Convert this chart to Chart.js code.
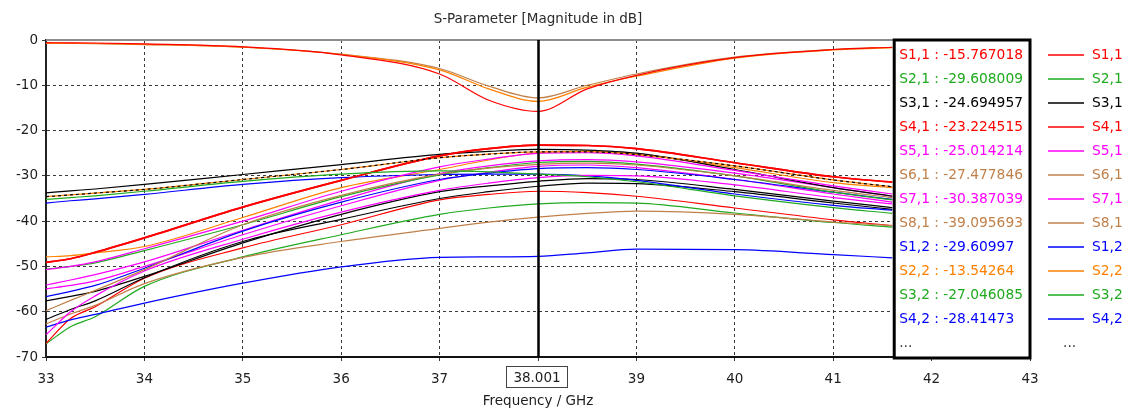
<!DOCTYPE html>
<html>
<head>
<meta charset="utf-8">
<script src="https://cdn.jsdelivr.net/npm/chart.js@4.4.0/dist/chart.umd.min.js"></script>
<style>
  html, body { margin: 0; padding: 0; background: #fff; }
</style>
</head>
<body>
<canvas id="sparam" width="1129" height="410"></canvas>
<script>
// frequency points (GHz)
var freq = [33, 33.25, 33.5, 34, 35, 36, 37, 37.5, 38, 38.5, 39, 40, 41, 41.6];

// reflections
var s11 = [-0.6, -0.62, -0.66, -0.85, -1.5, -3.3, -7.5, -13.3, -15.767018, -10.8, -7.8, -3.9, -2.1, -1.6];
var s22 = [-0.7, -0.72, -0.77, -0.95, -1.6, -3.2, -6.6, -10.8, -13.54264, -10.4, -8.0, -4.0, -2.2, -1.7];
var s66 = [-0.75, -0.77, -0.8, -1.0, -1.6, -3.1, -6.3, -10.2, -12.8, -10.0, -7.5, -3.8, -2.1, -1.6];

// upper coupling group
var s53 = [-33.75, -33.3, -32.9, -31.9, -29.7, -27.5, -25.25, -24.6, -24.15, -24.3, -25.0, -28.6, -32.6, -34.5];
var s31 = [-34.6, -34.2, -33.8, -33.0, -30.8, -28.6, -26.0, -25.2, -24.694957, -24.7, -25.3, -27.8, -30.9, -32.4];
var s21 = [-35.2, -34.8, -34.4, -33.4, -31.2, -29.6, -28.9, -29.1, -29.608009, -30.2, -31.3, -34.4, -37.0, -38.3];
var s12 = [-36.0, -35.5, -35.1, -34.1, -31.9, -30.4, -29.7, -29.6, -29.60997, -30.0, -31.0, -34.0, -36.5, -37.6];

// lower coupling group
var s41 = [-49.1, -48.3, -46.9, -43.7, -36.9, -31.0, -25.6, -24.0, -23.224515, -23.3, -24.0, -27.1, -30.2, -31.4];
var s62 = [-47.9, -47.6, -47.0, -45.6, -39.2, -32.6, -28.6, -26.5, -24.9, -24.6, -25.2, -28.2, -31.5, -32.6];
var s51 = [-50.7, -50.0, -49.0, -46.1, -40.0, -33.4, -28.0, -26.3, -25.014214, -24.9, -25.6, -28.8, -32.2, -34.0];
var s32 = [-50.6, -50.0, -49.2, -46.5, -40.8, -34.6, -29.8, -28.2, -27.046085, -26.8, -27.4, -30.0, -33.6, -35.3];
var s72 = [-54.1, -53.0, -51.8, -49.0, -42.0, -35.3, -29.5, -27.8, -26.7, -26.4, -26.9, -29.4, -32.6, -34.5];
var s82 = [-54.95, -54.2, -53.2, -50.0, -43.0, -36.6, -31.0, -29.2, -27.9, -27.6, -28.2, -30.8, -34.0, -35.8];
var s42 = [-56.65, -55.5, -54.2, -50.4, -42.2, -35.8, -30.8, -29.4, -28.41473, -28.2, -28.6, -30.8, -33.6, -35.2];
var s52 = [-57.6, -56.6, -55.5, -52.2, -44.8, -38.5, -33.5, -32.2, -31.2, -30.6, -30.8, -33.0, -35.6, -37.0];
var s61 = [-59.75, -57.5, -55.3, -50.7, -40.8, -34.3, -29.6, -28.3, -27.477846, -27.2, -27.6, -30.0, -33.2, -34.8];
var s63 = [-61.7, -59.5, -57.6, -52.5, -44.5, -39.6, -35.0, -33.5, -32.3, -31.6, -31.7, -33.5, -36.0, -37.4];
var s81 = [-62.7, -60.5, -58.6, -53.8, -48.0, -44.5, -41.6, -40.2, -39.095693, -38.3, -37.8, -38.5, -40.2, -41.0];
var s83 = [-63.4, -61.8, -60.6, -58.1, -53.7, -50.1, -48.0, -47.9, -47.8, -47.0, -46.2, -46.3, -47.4, -48.1];
var s71 = [-65.1, -60.0, -56.5, -51.0, -44.0, -38.0, -33.2, -31.6, -30.387039, -29.9, -30.0, -32.0, -34.8, -36.2];
var s73 = [-67.0, -61.5, -58.9, -52.6, -45.9, -40.8, -35.3, -34.1, -33.4, -33.7, -34.5, -37.1, -39.7, -41.0];
var s84 = [-67.1, -63.3, -61.1, -54.4, -47.9, -43.0, -38.5, -37.1, -36.2, -35.9, -36.0, -38.2, -40.3, -41.3];

// names, colours and values of each curve (first 12 are listed in the legend)
var names  = ['S1,1', 'S2,1', 'S3,1', 'S4,1', 'S5,1', 'S6,1', 'S7,1', 'S8,1', 'S1,2', 'S2,2', 'S3,2', 'S4,2',
              'S1,3', 'S5,3', 'S6,6', 'S6,2', 'S7,2', 'S8,2', 'S5,2', 'S6,3', 'S8,3', 'S7,3', 'S8,4', 'S1,4'];
var colors = ['#ff0000', '#1faa1f', '#000000', '#ff0000', '#ff00ff', '#c0804a', '#ff00ff', '#c0804a', '#0000ff', '#ff8000', '#1faa1f', '#0000ff',
              '#ff8000', '#000000', '#c0804a', '#ff8000', '#ff00ff', '#ff00ff', '#000000', '#000000', '#0000ff', '#ff0000', '#1faa1f', '#ff0000'];
var values = [s11, s21, s31, s41, s51, s61, s71, s81, s12, s22, s32, s42,
              s31, s53, s66, s62, s72, s82, s52, s63, s83, s73, s84, s41];

var markerFreq = 38.001;
var legendCount = 12;

var datasets = [];
for (var i = 0; i < names.length; i++) {
   var pts = [];
   for (var j = 0; j < freq.length; j++) {
      pts.push({ x: freq[j], y: values[i][j] });
   }
   datasets.push({
      label: names[i],
      data: pts,
      borderColor: colors[i],
      borderWidth: names[i] == 'S4,1' || names[i] == 'S1,4' ? 1.7 : 1.2,
      borderDash: names[i] == 'S3,1' ? [3, 3] : [],
      pointRadius: 0,
      fill: false,
      cubicInterpolationMode: 'monotone'
   });
}

Chart.defaults.font.family = 'DejaVu Sans';
Chart.defaults.font.size = 13.5;
Chart.defaults.color = '#1e1e1e';

// marker box, legend, titles
var overlay = {
   id: 'overlay',
   afterDatasetsDraw: function(chart) {
      var ctx = chart.ctx;
      var area = chart.chartArea;
      var xs = chart.scales.x;
      var mIdx = freq.indexOf(38);

      ctx.save();

      // top frame line
      ctx.strokeStyle = '#8c8c8c';
      ctx.lineWidth = 2;
      ctx.beginPath();
      ctx.moveTo(area.left, area.top);
      ctx.lineTo(area.right, area.top);
      ctx.stroke();

      // marker line
      var mx = Math.round(xs.getPixelForValue(markerFreq)) + 0.5;
      ctx.strokeStyle = '#000';
      ctx.lineWidth = 2.5;
      ctx.beginPath();
      ctx.moveTo(mx, area.top);
      ctx.lineTo(mx, area.bottom);
      ctx.stroke();

      // marker value box
      var bx = xs.getPixelForValue(41.61);
      ctx.fillStyle = '#fff';
      ctx.fillRect(bx, area.top - 1, area.right - bx, area.bottom - area.top + 2);
      ctx.lineWidth = 3;
      ctx.strokeStyle = '#000';
      ctx.strokeRect(bx + 1, area.top, area.right - bx - 1, area.bottom - area.top + 1);

      ctx.font = '13.8px "DejaVu Sans"';
      ctx.textBaseline = 'middle';
      ctx.textAlign = 'left';
      for (var i = 0; i < legendCount; i++) {
         var ty = area.top + 15 + i * 24;
         ctx.fillStyle = colors[i];
         ctx.fillText(names[i] + ' : ' + String(values[i][mIdx]), bx + 6, ty);

         // legend on the right
         ctx.beginPath();
         ctx.strokeStyle = colors[i];
         ctx.lineWidth = 1.3;
         ctx.moveTo(area.right + 18, Math.round(ty));
         ctx.lineTo(area.right + 54, Math.round(ty));
         ctx.stroke();
         ctx.fillText(names[i], area.right + 62, ty);
      }
      var dotY = area.top + 15 + legendCount * 24;
      ctx.fillStyle = '#333';
      ctx.fillText('...', bx + 6, dotY);
      ctx.fillText('...', area.right + 33, dotY);

      // title
      ctx.font = '13.5px "DejaVu Sans"';
      ctx.textAlign = 'center';
      ctx.fillStyle = '#2a2a2a';
      ctx.fillText('S-Parameter [Magnitude in dB]', (area.left + area.right) / 2, 19);

      // marker frequency label on the axis
      ctx.fillStyle = '#1e1e1e';
      ctx.fillText(String(markerFreq), 537, 378);
      ctx.strokeStyle = '#444';
      ctx.lineWidth = 1;
      ctx.strokeRect(506.5, 366.5, 61, 21);

      ctx.restore();
   }
};

var ctx = document.getElementById('sparam').getContext('2d');
var chart = new Chart(ctx, {
   type: 'line',
   data: { datasets: datasets },
   plugins: [overlay],
   options: {
      responsive: false,
      animation: false,
      layout: { padding: { top: 40, right: 99, left: 0, bottom: 0 } },
      plugins: {
         legend: { display: false },
         title: { display: false },
         tooltip: { enabled: false }
      },
      scales: {
         x: {
            type: 'linear',
            min: 33,
            max: 43,
            afterFit: function(s) { s.height = 53; },
            ticks: {
               stepSize: 1,
               padding: 10,
               maxRotation: 0,
               callback: function(v) { return v == 38 ? '' : v; }
            },
            grid: {
               color: function(c) { return (c.tick && (c.tick.value == 33 || c.tick.value == 43)) ? 'rgba(0,0,0,0)' : '#3a3a3a'; },
               tickColor: '#3a3a3a',
               tickLength: 4,
               lineWidth: 1
            },
            border: { display: true, color: '#111', width: 2, dash: [3, 3] },
            title: {
               display: true,
               text: 'Frequency / GHz',
               padding: { top: 0, bottom: 0 }
            }
         },
         y: {
            min: -70,
            max: 0,
            afterFit: function(s) { s.width = 46; },
            ticks: { stepSize: 10, padding: 4 },
            grid: {
               color: function(c) { return (c.tick && (c.tick.value == 0 || c.tick.value == -70)) ? 'rgba(0,0,0,0)' : '#3a3a3a'; },
               tickColor: '#3a3a3a',
               tickLength: 4,
               lineWidth: 1
            },
            border: { display: true, color: '#222', width: 2, dash: [3, 3] }
         }
      }
   }
});
</script>
</body>
</html>
